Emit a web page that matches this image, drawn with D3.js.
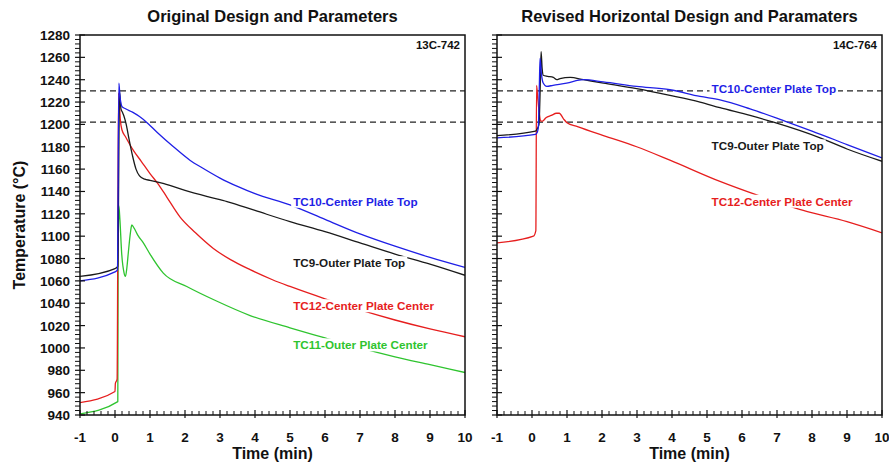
<!DOCTYPE html>
<html>
<head>
<meta charset="utf-8">
<script src="https://cdn.jsdelivr.net/npm/d3@7"></script>
<style>
  html, body { margin: 0; padding: 0; background: #fff; }
  svg { display: block; font-family: "Liberation Sans", Arial, sans-serif; }
</style>
</head>
<body>
<svg id="chart" width="889" height="468"></svg>
<script>
// ---------- data ----------
const panelTitles = ["Original Design and Parameters", "Revised Horizontal Design and Paramaters"];
const panelTags = ["13C-742", "14C-764"];
const xTicks = [-1, 0, 1, 2, 3, 4, 5, 6, 7, 8, 9, 10];
const yTicks = [940, 960, 980, 1000, 1020, 1040, 1060, 1080, 1100, 1120, 1140, 1160, 1180, 1200, 1220, 1240, 1260, 1280];
const refLines = [1230, 1202];

// Left panel (13C-742)
const L_TC10_t = [-1, 0.0, 0.07, 0.11, 0.14, 0.2, 0.3, 0.5, 0.7, 0.9, 1.2, 1.67, 2.14, 2.5, 3.0, 3.5, 4, 5, 6, 7, 8, 9, 10];
const L_TC10_v = [1060, 1068, 1070, 1237, 1226, 1216, 1214, 1211, 1207, 1202, 1193, 1180, 1168, 1161, 1152, 1144.5, 1138, 1128, 1115, 1102, 1091, 1081, 1072];
const L_TC9_t = [-1, 0.0, 0.08, 0.13, 0.17, 0.21, 0.25, 0.32, 0.4, 0.5, 0.6, 0.7, 0.85, 1.0, 1.4, 2.0, 2.7, 3.2, 4, 5, 6, 7, 8, 9, 10];
const L_TC9_v = [1064, 1071, 1073, 1229, 1214, 1211, 1208, 1200, 1187, 1172, 1160, 1154, 1151, 1150, 1147, 1141, 1135, 1131, 1123, 1113, 1104, 1094, 1084, 1075, 1065];
const L_TC12_t = [-1, 0.0, 0.01, 0.06, 0.1, 0.12, 0.15, 0.2, 0.3, 0.52, 0.75, 1.0, 1.25, 1.48, 1.86, 2.3, 2.81, 3.3, 3.86, 4.5, 5, 6, 7, 8, 9, 10];
const L_TC12_v = [951, 961, 968, 972, 1228, 1222, 1205, 1195, 1189, 1177, 1167, 1156, 1146, 1135, 1117, 1103, 1089, 1079, 1070, 1061, 1055, 1044, 1034, 1025, 1017, 1010];
const L_TC11_t = [-1, 0.08, 0.09, 0.11, 0.14, 0.19, 0.26, 0.3, 0.34, 0.38, 0.44, 0.48, 0.55, 0.65, 0.81, 1.0, 1.38, 2.05, 2.9, 3.86, 5, 6, 7, 8, 9, 10];
const L_TC11_v = [941, 952, 1080, 1127, 1115, 1085, 1067, 1064, 1072, 1085, 1103, 1110, 1107, 1101, 1094, 1084, 1067, 1055, 1042, 1029, 1018, 1009, 1000, 992, 985, 978];

// Right panel (14C-764)
const R_TC10_t = [-1, 0.1, 0.15, 0.18, 0.21, 0.23, 0.27, 0.32, 0.42, 0.6, 0.99, 1.47, 2.04, 2.99, 3.94, 4.8, 5.37, 6.23, 7.3, 8, 9, 10];
const R_TC10_v = [1188, 1191, 1193, 1197, 1235, 1259, 1245, 1237, 1234, 1235, 1237, 1240, 1238, 1234, 1231, 1225, 1222, 1214, 1202, 1194, 1182, 1170];
const R_TC9_t = [-1, 0.1, 0.15, 0.2, 0.24, 0.26, 0.29, 0.32, 0.45, 0.61, 0.71, 0.8, 1.09, 1.47, 2.04, 2.99, 3.94, 4.8, 5.37, 6.23, 6.9, 8.23, 9, 10];
const R_TC9_v = [1190, 1194, 1196, 1200, 1240, 1265, 1250, 1244, 1243, 1242, 1240, 1241, 1242, 1240, 1237, 1232, 1226, 1220, 1215, 1208, 1202, 1188, 1178, 1167];
const R_TC12_t = [-1, 0.04, 0.11, 0.13, 0.16, 0.2, 0.25, 0.3, 0.4, 0.55, 0.7, 0.78, 0.9, 1.0, 1.3, 2.04, 2.99, 3.94, 5.37, 6.5, 7.75, 9, 10];
const R_TC12_v = [1094, 1100, 1105, 1235, 1225, 1212, 1203, 1203, 1206, 1208, 1210, 1210, 1205, 1201.5, 1198, 1190, 1180, 1168, 1149, 1136, 1123, 1113, 1103];

const colors = { TC10: "#1f1fe6", TC9: "#1a1a1a", TC12: "#e61e1e", TC11: "#2fc42f" };

const panels = [
  {
    x0: 80,
    series: [
      { key: "TC11", t: L_TC11_t, v: L_TC11_v },
      { key: "TC12", t: L_TC12_t, v: L_TC12_v },
      { key: "TC9", t: L_TC9_t, v: L_TC9_v },
      { key: "TC10", t: L_TC10_t, v: L_TC10_v }
    ],
    labels: [
      { text: "TC10-Center Plate Top", key: "TC10", t: 5.09, v: 1130 },
      { text: "TC9-Outer Plate Top", key: "TC9", t: 5.09, v: 1075 },
      { text: "TC12-Center Plate Center", key: "TC12", t: 5.09, v: 1036.5 },
      { text: "TC11-Outer Plate Center", key: "TC11", t: 5.09, v: 1001.5 }
    ]
  },
  {
    x0: 497,
    series: [
      { key: "TC12", t: R_TC12_t, v: R_TC12_v },
      { key: "TC9", t: R_TC9_t, v: R_TC9_v },
      { key: "TC10", t: R_TC10_t, v: R_TC10_v }
    ],
    labels: [
      { text: "TC10-Center Plate Top", key: "TC10", t: 5.13, v: 1230.8 },
      { text: "TC9-Outer Plate Top", key: "TC9", t: 5.13, v: 1179.5 },
      { text: "TC12-Center Plate Center", key: "TC12", t: 5.13, v: 1130 }
    ]
  }
];

// ---------- drawing ----------
const svg = d3.select("#chart");
svg.append("rect").attr("width", 889).attr("height", 468).attr("fill", "#fff");

const W = 385, plotTop = 35, plotBottom = 415;

panels.forEach((p, i) => {
  const x = d3.scaleLinear().domain([-1, 10]).range([p.x0, p.x0 + W]);
  const y = d3.scaleLinear().domain([940, 1280]).range([plotBottom, plotTop]);
  const g = svg.append("g");

  const clipId = "clip" + i;
  svg.append("clipPath").attr("id", clipId)
    .append("rect").attr("x", p.x0).attr("y", plotTop).attr("width", W).attr("height", plotBottom - plotTop);

  // reference dashed lines
  g.selectAll(".ref").data(refLines).join("line")
    .attr("x1", x(-1)).attr("x2", x(10))
    .attr("y1", d => y(d)).attr("y2", d => y(d))
    .attr("stroke", "#222").attr("stroke-width", 1.2).attr("stroke-dasharray", "6,4");

  // series lines
  const line = d3.line().x(d => x(d[0])).y(d => y(d[1])).curve(d3.curveMonotoneX);
  p.series.forEach(s => {
    const pts = s.t.map((t, k) => [t, s.v[k]]);
    g.append("path").datum(pts)
      .attr("clip-path", `url(#${clipId})`)
      .attr("d", line)
      .attr("fill", "none").attr("stroke", colors[s.key]).attr("stroke-width", 1.3)
      .attr("stroke-linejoin", "round");
  });

  // labels with white background
  p.labels.forEach(l => {
    const tx = g.append("text")
      .attr("x", x(l.t)).attr("y", y(l.v))
      .attr("font-size", 11.7).attr("font-weight", "bold")
      .attr("fill", colors[l.key]).attr("dominant-baseline", "middle")
      .text(l.text);
    const bb = tx.node().getBBox();
    g.insert("rect", () => tx.node())
      .attr("x", bb.x - 2).attr("y", bb.y).attr("width", bb.width + 4).attr("height", bb.height)
      .attr("fill", "#fff");
  });

  // frame
  g.append("rect").attr("x", p.x0).attr("y", plotTop).attr("width", W).attr("height", plotBottom - plotTop)
    .attr("fill", "none").attr("stroke", "#111").attr("stroke-width", 1.5);

  // x ticks
  const xMinor = d3.range(-1, 10.001, 0.2).filter(d => Math.abs(d - Math.round(d)) > 1e-6);
  g.selectAll(".xmin").data(xMinor).join("line")
    .attr("x1", d => x(d)).attr("x2", d => x(d))
    .attr("y1", plotBottom).attr("y2", plotBottom - 4)
    .attr("stroke", "#111").attr("stroke-width", 1);
  g.selectAll(".xmaj").data(xTicks).join("line")
    .attr("x1", d => x(d)).attr("x2", d => x(d))
    .attr("y1", plotBottom + 3).attr("y2", plotBottom - 5)
    .attr("stroke", "#111").attr("stroke-width", 1.2);
  g.selectAll(".xlab").data(xTicks).join("text")
    .attr("x", d => x(d)).attr("y", 442)
    .attr("text-anchor", "middle").attr("font-size", 13.5).attr("font-weight", "bold").attr("fill", "#111")
    .text(d => d);

  // y ticks
  const yMinor = d3.range(940, 1280.001, 4).filter(d => d % 20 !== 0);
  g.selectAll(".ymin").data(yMinor).join("line")
    .attr("x1", p.x0 - 5).attr("x2", p.x0)
    .attr("y1", d => y(d)).attr("y2", d => y(d))
    .attr("stroke", "#111").attr("stroke-width", 1);
  g.selectAll(".ymaj").data(yTicks).join("line")
    .attr("x1", p.x0 - 5).attr("x2", p.x0 + 5)
    .attr("y1", d => y(d)).attr("y2", d => y(d))
    .attr("stroke", "#111").attr("stroke-width", 1.2);
  if (i === 0) {
    g.selectAll(".ylab").data(yTicks).join("text")
      .attr("x", p.x0 - 10).attr("y", d => y(d) + 5)
      .attr("text-anchor", "end").attr("font-size", 13.5).attr("font-weight", "bold").attr("fill", "#111")
      .text(d => d);
  }

  // tag
  g.append("text").attr("x", p.x0 + W - 5).attr("y", 49)
    .attr("text-anchor", "end").attr("font-size", 11.5).attr("font-weight", "bold").attr("fill", "#111")
    .text(panelTags[i]);

  // title
  g.append("text").attr("x", p.x0 + W / 2).attr("y", 22)
    .attr("text-anchor", "middle").attr("font-size", 16.5).attr("font-weight", "bold").attr("fill", "#111")
    .text(panelTitles[i]);

  // x axis title
  g.append("text").attr("x", p.x0 + W / 2).attr("y", 459)
    .attr("text-anchor", "middle").attr("font-size", 16).attr("font-weight", "bold").attr("fill", "#111")
    .text("Time (min)");
});

// y axis title
svg.append("text")
  .attr("transform", `translate(25,${(plotTop + plotBottom) / 2}) rotate(-90)`)
  .attr("text-anchor", "middle").attr("font-size", 16).attr("font-weight", "bold").attr("fill", "#111")
  .text("Temperature (°C)");
</script>
</body>
</html>
